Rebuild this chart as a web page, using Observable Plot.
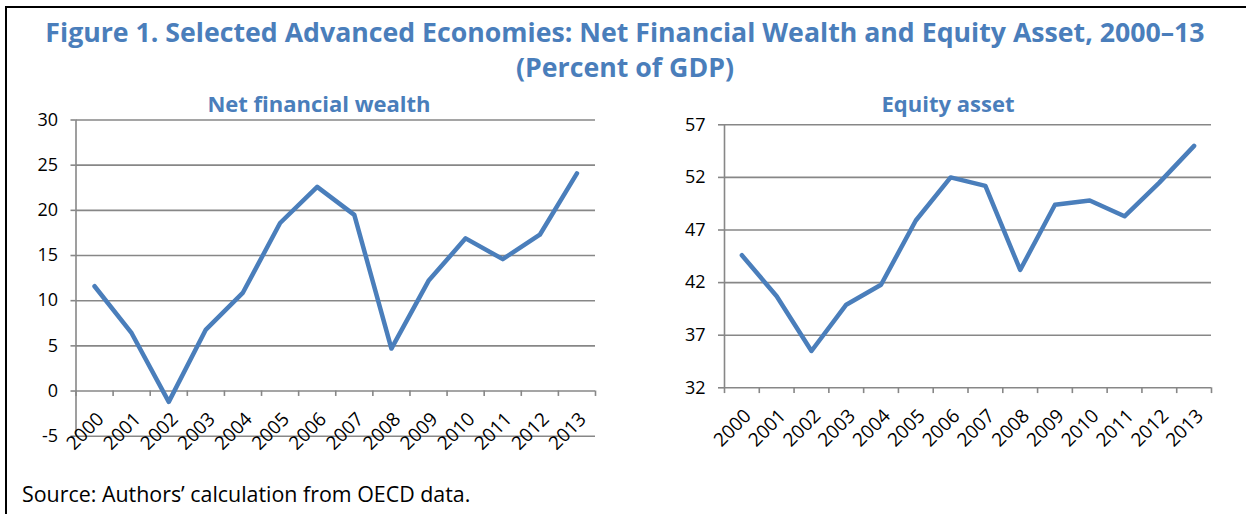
<!DOCTYPE html>
<html>
<head>
<meta charset="utf-8">
<script src="https://cdn.jsdelivr.net/npm/d3@7"></script>
<script src="https://cdn.jsdelivr.net/npm/@observablehq/plot@0.6"></script>
<style>
  html, body { margin: 0; padding: 0; background: #fff; }
  #root { position: relative; width: 1246px; height: 514px; overflow: hidden; background: #fff; font-family: "Open Sans", Lato, sans-serif; }
  .frame { position: absolute; left: 5px; top: 6px; width: 1300px; height: 600px; border-top: 2px solid #000; border-left: 2px solid #000; }
  .t { position: absolute; white-space: nowrap; color: #4A7EBB; font-weight: bold; line-height: 1.2; text-align: center; }
  .chart { position: absolute; }
  .src { position: absolute; left: 22px; top: 481px; font-size: 21.4px; line-height: 1.2; color: #000; white-space: nowrap; }
</style>
</head>
<body>
<div id="root">
  <div class="frame"></div>
  <div class="t" style="left:0;width:1250px;top:16px;font-size:26.7px;">Figure 1. Selected Advanced Economies: Net Financial Wealth and Equity Asset, 2000–13</div>
  <div class="t" style="left:0;width:1250px;top:51px;font-size:26.7px;">(Percent of GDP)</div>
  <div class="t" style="left:119px;width:400px;top:90px;font-size:22px;">Net financial wealth</div>
  <div class="t" style="left:748px;width:400px;top:90px;font-size:22px;">Equity asset</div>
  <div id="left" class="chart" style="left:0;top:100px;"></div>
  <div id="right" class="chart" style="left:630px;top:100px;"></div>
  <div class="src">Source: Authors’ calculation from OECD data.</div>
</div>
<script>
const years = ["2000","2001","2002","2003","2004","2005","2006","2007","2008","2009","2010","2011","2012","2013"];
const netWealth = [11.6, 6.4, -1.2, 6.8, 10.9, 18.6, 22.6, 19.5, 4.7, 12.2, 16.9, 14.6, 17.3, 24.1];
const equity = [44.6, 40.7, 35.5, 39.9, 41.8, 47.9, 52.0, 51.2, 43.2, 49.4, 49.8, 48.3, 51.5, 55.0];
const netTicks = [-5, 0, 5, 10, 15, 20, 25, 30];
const equityTicks = [32, 37, 42, 47, 52, 57];

const gridColor = "#878787";
const lineColor = "#4A7EBB";
const boundaries = d3.range(years.length + 1);

function makeChart(values, ticks, opts) {
  const rows = years.map((y, i) => ({year: y, pos: i + 0.5, value: values[i]}));
  const base = opts.base;
  return Plot.plot({
    width: opts.width,
    height: opts.height,
    marginLeft: opts.marginLeft,
    marginRight: opts.marginRight,
    marginTop: opts.marginTop,
    marginBottom: opts.marginBottom,
    style: {fontFamily: "'Open Sans', Lato, sans-serif", fontSize: "18px", color: "#000", background: "transparent", overflow: "visible"},
    x: {type: "linear", domain: [0, years.length], axis: null},
    y: {domain: [ticks[0], ticks[ticks.length - 1]], axis: null},
    marks: [
      Plot.gridY(ticks, {stroke: gridColor, strokeOpacity: 1, strokeWidth: 1.6}),
      Plot.ruleX([0], {stroke: gridColor, strokeWidth: 1.6}),
      Plot.ruleX(boundaries, {x: d => d, y1: base, y2: base - opts.tickUnits, stroke: gridColor, strokeWidth: 1.6}),
      Plot.axisY(ticks, {label: null, tickSize: opts.tickSize, tickPadding: 13, stroke: gridColor, strokeWidth: 1.6, fill: "#000", fontSize: 18, tickFormat: d => String(d)}),
      Plot.text(rows, {x: "pos", y: base, text: "year", rotate: -45, textAnchor: "end", dx: 6, dy: 25, fontSize: 19, fill: "#000"}),
      Plot.line(rows, {x: "pos", y: "value", stroke: lineColor, strokeWidth: 4.5, strokeLinejoin: "round", strokeLinecap: "round"})
    ]
  });
}

document.getElementById("left").append(makeChart(netWealth, netTicks, {
  width: 615, height: 414, marginLeft: 75.5, marginRight: 20, marginTop: 19.5, marginBottom: 78.3,
  base: 0, tickUnits: 0.6, tickSize: 5
}));
document.getElementById("right").append(makeChart(equity, equityTicks, {
  width: 600, height: 414, marginLeft: 94, marginRight: 19, marginTop: 24.3, marginBottom: 126.7,
  base: 32, tickUnits: 0.55, tickSize: 6
}));
</script>
</body>
</html>
